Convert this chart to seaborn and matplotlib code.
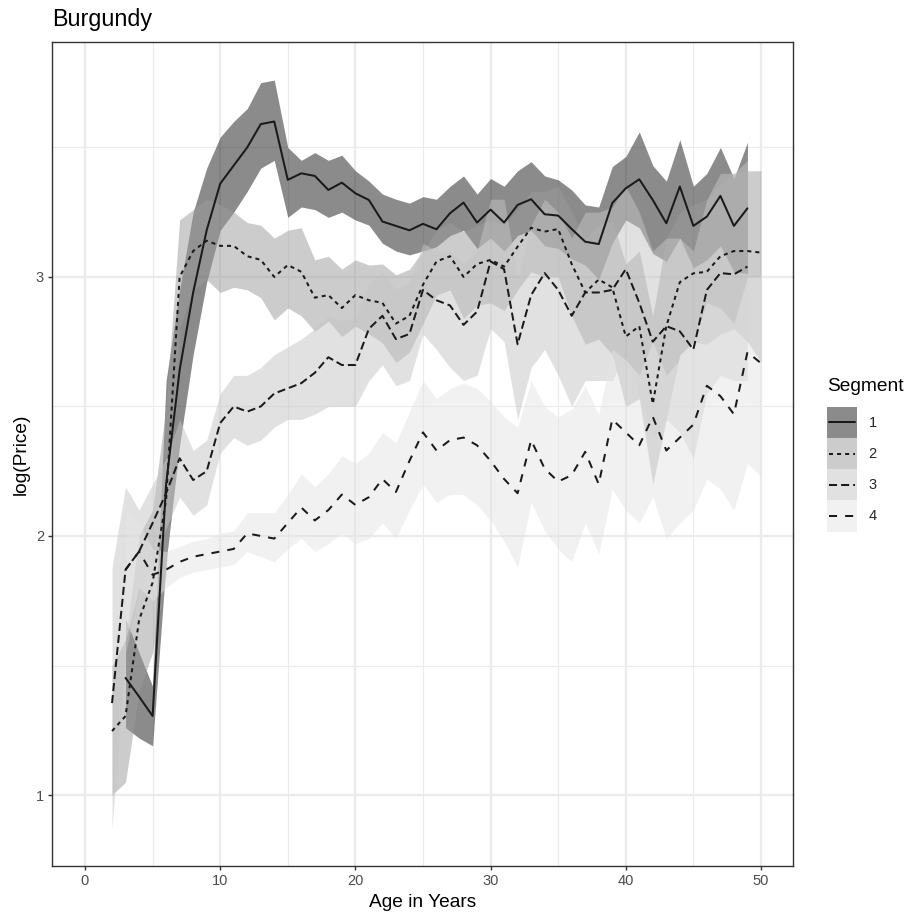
import matplotlib
matplotlib.use("Agg")
import matplotlib.pyplot as plt
import numpy as np
import pandas as pd
import seaborn as sns
from matplotlib.patches import Patch, Rectangle
from matplotlib.lines import Line2D
from matplotlib.legend_handler import HandlerBase

# ---------------- data ----------------
seg_names = ["1", "2", "3", "4"]

age1 = list(range(3, 50))
val1 = [1.452, 1.38, 1.305, 2.20, 2.64, 2.94, 3.18, 3.36, 3.43, 3.50, 3.59, 3.60, 3.375,
        3.40, 3.39, 3.336, 3.364, 3.323, 3.297, 3.214, 3.197, 3.18, 3.205, 3.184, 3.246,
        3.287, 3.21, 3.26, 3.21, 3.278, 3.30, 3.242, 3.237, 3.185, 3.136, 3.127, 3.285,
        3.342, 3.377, 3.297, 3.207, 3.349, 3.197, 3.233, 3.313, 3.197, 3.265]
hi1 = [1.68, 1.55, 1.42, 2.60, 2.95, 3.25, 3.42, 3.54, 3.60, 3.65, 3.75, 3.76, 3.50,
       3.45, 3.48, 3.45, 3.47, 3.41, 3.37, 3.32, 3.30, 3.285, 3.31, 3.30, 3.35,
       3.39, 3.32, 3.38, 3.35, 3.41, 3.445, 3.39, 3.375, 3.336, 3.278, 3.27, 3.426,
       3.465, 3.56, 3.43, 3.37, 3.53, 3.35, 3.40, 3.50, 3.38, 3.52]
lo1 = [1.26, 1.22, 1.19, 1.90, 2.35, 2.70, 2.98, 3.18, 3.25, 3.33, 3.42, 3.45, 3.23,
       3.27, 3.26, 3.23, 3.25, 3.22, 3.20, 3.13, 3.10, 3.085, 3.10, 3.117, 3.16,
       3.18, 3.11, 3.15, 3.10, 3.16, 3.18, 3.12, 3.11, 3.07, 3.046, 2.99, 3.13,
       3.22, 3.19, 3.09, 3.06, 3.15, 3.035, 3.066, 3.12, 3.02, 3.014]

age2 = list(range(2, 51))
val2 = [1.247, 1.305, 1.676, 1.82, 2.14, 3.00, 3.10, 3.14, 3.12, 3.12, 3.08, 3.066, 3.00,
        3.046, 3.02, 2.92, 2.93, 2.88, 2.93, 2.91, 2.90, 2.82, 2.85, 2.97, 3.06, 3.08,
        3.00, 3.05, 3.066, 3.04, 3.117, 3.19, 3.175, 3.185, 3.05, 2.94, 2.99, 2.96, 2.77,
        2.81, 2.51, 2.81, 2.98, 3.014, 3.02, 3.08, 3.10, 3.10, 3.094]
hi2 = [1.50, 1.60, 2.00, 2.10, 2.50, 3.22, 3.26, 3.30, 3.28, 3.25, 3.21, 3.20, 3.15,
       3.18, 3.19, 3.066, 3.08, 3.03, 3.066, 3.046, 3.05, 3.008, 3.03, 3.10, 3.18, 3.21,
       3.175, 3.20, 3.22, 3.20, 3.26, 3.33, 3.33, 3.35, 3.25, 3.15, 3.20, 3.22, 3.05,
       3.10, 2.85, 3.15, 3.25, 3.28, 3.30, 3.36, 3.40, 3.41, 3.41]
lo2 = [1.00, 1.05, 1.40, 1.55, 1.85, 2.80, 2.95, 2.99, 2.94, 2.96, 2.95, 2.92, 2.834,
       2.88, 2.85, 2.79, 2.83, 2.77, 2.81, 2.78, 2.745, 2.67, 2.71, 2.82, 2.93, 2.95,
       2.84, 2.89, 2.90, 2.87, 2.95, 3.02, 3.00, 3.00, 2.85, 2.74, 2.76, 2.70, 2.50,
       2.53, 2.20, 2.45, 2.70, 2.75, 2.74, 2.78, 2.80, 2.75, 2.67]

age3 = list(range(2, 50))
val3 = [1.355, 1.87, 1.94, 2.05, 2.165, 2.30, 2.216, 2.25, 2.436, 2.50, 2.48, 2.50, 2.55,
        2.57, 2.59, 2.63, 2.69, 2.66, 2.66, 2.80, 2.85, 2.76, 2.78, 2.95, 2.91, 2.89,
        2.815, 2.866, 3.06, 3.03, 2.74, 2.93, 3.015, 2.95, 2.85, 2.94, 2.94, 2.95, 3.03,
        2.90, 2.75, 2.81, 2.79, 2.72, 2.95, 3.015, 3.01, 3.04]
hi3 = [1.88, 2.19, 2.10, 2.20, 2.30, 2.45, 2.33, 2.37, 2.55, 2.62, 2.62, 2.65, 2.70,
       2.73, 2.76, 2.80, 2.85, 2.83, 2.84, 2.97, 3.02, 2.95, 2.98, 3.13, 3.10, 3.10,
       3.05, 3.10, 3.30, 3.30, 3.00, 3.20, 3.30, 3.25, 3.15, 3.25, 3.25, 3.27, 3.35,
       3.25, 3.10, 3.15, 3.15, 3.10, 3.30, 3.40, 3.40, 3.45]
lo3 = [0.87, 1.55, 1.78, 1.90, 2.03, 2.15, 2.08, 2.12, 2.32, 2.38, 2.35, 2.37, 2.42,
       2.45, 2.45, 2.47, 2.50, 2.50, 2.50, 2.60, 2.66, 2.58, 2.60, 2.78, 2.72, 2.65,
       2.60, 2.62, 2.80, 2.75, 2.45, 2.65, 2.72, 2.62, 2.50, 2.60, 2.60, 2.60, 2.70,
       2.55, 2.38, 2.45, 2.40, 2.30, 2.55, 2.62, 2.60, 2.60]

age4 = list(range(3, 51))
val4 = [1.87, 1.94, 1.85, 1.87, 1.90, 1.92, 1.93, 1.94, 1.95, 2.01, 2.00, 1.99, 2.05,
        2.11, 2.06, 2.10, 2.16, 2.12, 2.15, 2.22, 2.17, 2.29, 2.40, 2.33, 2.37, 2.38,
        2.35, 2.29, 2.22, 2.165, 2.37, 2.26, 2.21, 2.235, 2.325, 2.20, 2.45, 2.40, 2.35,
        2.46, 2.33, 2.38, 2.43, 2.58, 2.54, 2.47, 2.71, 2.667]
hi4 = [2.10, 2.05, 1.95, 1.94, 1.96, 1.98, 1.99, 2.01, 2.02, 2.09, 2.09, 2.09, 2.16,
       2.24, 2.19, 2.24, 2.31, 2.28, 2.32, 2.40, 2.36, 2.48, 2.60, 2.53, 2.57, 2.59,
       2.57, 2.52, 2.46, 2.42, 2.60, 2.50, 2.46, 2.49, 2.58, 2.47, 2.72, 2.68, 2.62,
       2.75, 2.62, 2.68, 2.75, 2.90, 2.88, 2.82, 3.00, 3.00]
lo4 = [1.60, 1.80, 1.75, 1.80, 1.84, 1.86, 1.87, 1.88, 1.89, 1.94, 1.92, 1.90, 1.95,
       1.99, 1.94, 1.97, 2.01, 1.97, 1.99, 2.05, 1.99, 2.10, 2.20, 2.13, 2.16, 2.16,
       2.12, 2.06, 1.98, 1.88, 2.13, 2.02, 1.95, 1.90, 2.05, 1.93, 2.18, 2.10, 2.05,
       2.15, 1.99, 2.05, 2.10, 2.22, 2.18, 2.10, 2.28, 2.23]

x_ticks = [0, 10, 20, 30, 40, 50]
y_ticks = [1, 2, 3]

# ---------------- style ----------------
fill_cols = {"1": "#191919", "2": "#9b9b9b", "3": "#c5c5c5", "4": "#e5e5e5"}
fill_alpha = 0.5
dash_map = {"1": "", "2": (2, 2), "3": (4, 2), "4": (4, 4)}
line_col = "#1a1a1a"
lw = 1.45

sns.set_theme(style="white")
plt.rcParams["font.family"] = ["Liberation Sans", "DejaVu Sans"]

series = {
    "1": (age1, val1, lo1, hi1),
    "2": (age2, val2, lo2, hi2),
    "3": (age3, val3, lo3, hi3),
    "4": (age4, val4, lo4, hi4),
}
frames = []
for s, (a, v, lo, hi) in series.items():
    frames.append(pd.DataFrame({"age": a, "value": v, "lo": lo, "hi": hi, "Segment": s}))
df = pd.concat(frames, ignore_index=True)

W, H = 913, 914
fig = plt.figure(figsize=(W / 100, H / 100), dpi=100)
L, R, T, B = 52, 793, 42, 866
ax = fig.add_axes([L / W, (H - B) / H, (R - L) / W, (B - T) / H])
ax.set_facecolor("white")

# grid
for xv in np.arange(5, 51, 10):
    ax.axvline(xv, color="#ebebeb", lw=0.8, zorder=0)
for yv in [1.5, 2.5, 3.5]:
    ax.axhline(yv, color="#ebebeb", lw=0.8, zorder=0)
for xv in x_ticks:
    ax.axvline(xv, color="#ebebeb", lw=1.6, zorder=0)
for yv in y_ticks:
    ax.axhline(yv, color="#ebebeb", lw=1.6, zorder=0)

# ribbons
for s in seg_names:
    d = df[df["Segment"] == s]
    ax.fill_between(d["age"], d["lo"], d["hi"], color=fill_cols[s], alpha=fill_alpha,
                    lw=0, zorder=1)

# lines
sns.lineplot(data=df, x="age", y="value", style="Segment", dashes=dash_map,
             color=line_col, lw=lw, errorbar=None, legend=False, ax=ax, zorder=3,
             sort=True)

ax.set_xlim(-2.44, 52.37)
ax.set_ylim(0.726, 3.907)
ax.set_xticks(x_ticks)
ax.set_yticks(y_ticks)
ax.set_xticklabels([str(t) for t in x_ticks])
ax.set_yticklabels([str(t) for t in y_ticks])
ax.tick_params(axis="both", which="both", length=3.2, width=1.0, color="#333333",
               labelcolor="#4d4d4d", labelsize=10.5, pad=2.5, bottom=True, left=True)
for sp in ax.spines.values():
    sp.set_color("#333333")
    sp.set_linewidth(1.0)
    sp.set_visible(True)
ax.grid(False)
ax.set_xlabel("Age in Years", fontsize=13.8, color="black", labelpad=4.5)
ax.set_ylabel("log(Price)", fontsize=13.8, color="black", labelpad=4.5)

fig.text(L / W, 1 - 26 / H, "Burgundy", fontsize=16.8, ha="left", va="baseline", color="black")


# legend: filled key with line centred in it
class KeyHandler(HandlerBase):
    def create_artists(self, legend, orig_handle, xdescent, ydescent, width, height,
                       fontsize, trans):
        s = orig_handle.get_gid()
        rect = Rectangle((-xdescent, -ydescent), width, height, facecolor=fill_cols[s],
                         alpha=fill_alpha, edgecolor="none", transform=trans)
        yc = -ydescent + height / 2
        ln = Line2D([-xdescent + 1.5, -xdescent + width - 1.5], [yc, yc], color=line_col,
                    lw=lw, linestyle="-" if dash_map[s] == "" else (0, dash_map[s]),
                    transform=trans)
        return [rect, ln]


handles = []
for s in seg_names:
    p = Patch(facecolor=fill_cols[s])
    p.set_gid(s)
    handles.append(p)
leg = fig.legend(handles, seg_names, handler_map={Patch: KeyHandler()},
                 loc="upper left", bbox_to_anchor=(826.7 / W, 1 - 406.7 / H), frameon=False,
                 fontsize=10.5, handlelength=2.06, handleheight=2.92,
                 labelspacing=0.0, handletextpad=0.8, borderaxespad=0, borderpad=0)
fig.text(826.7 / W, 1 - 391 / H, "Segment", fontsize=13.8, ha="left", va="baseline",
         color="black")

fig.savefig("out.png", dpi=100)
